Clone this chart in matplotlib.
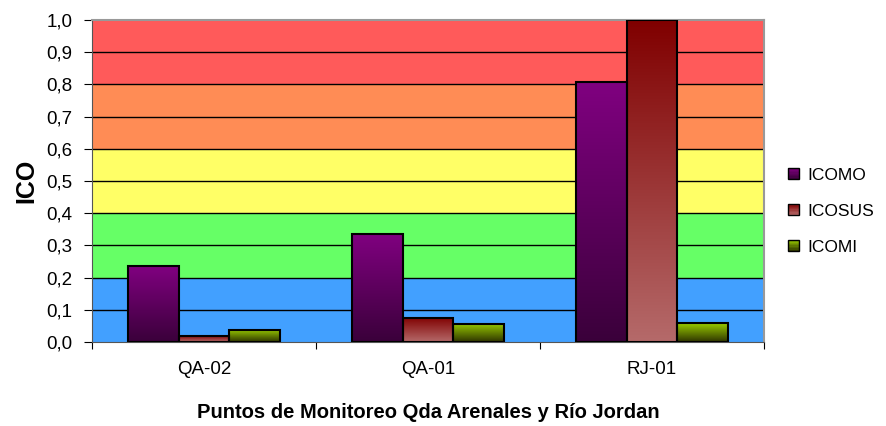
#!/usr/bin/env python3

import numpy as np
import matplotlib as mpl
mpl.use("Agg")
import matplotlib.pyplot as plt
from matplotlib.colors import LinearSegmentedColormap
from matplotlib.patches import Rectangle
from matplotlib.legend_handler import HandlerBase

plt.rcParams['font.family'] = ['Liberation Sans', 'DejaVu Sans']

# data
stations = ["QA-02", "QA-01", "RJ-01"]
series_names = ["ICOMO", "ICOSUS", "ICOMI"]
icomo = [0.236, 0.335, 0.807]
icosus = [0.019, 0.075, 1.0]
icomi = [0.038, 0.057, 0.058]

band_edges = [0.0, 0.2, 0.4, 0.6, 0.8, 1.0]
band_colors = ["#42A0FF", "#66FF66", "#FFFF66", "#FF8C55", "#FF5A5A"]

# gradient (top colour, bottom colour) for each series
grad_colors = [("#800080", "#3A003A"), ("#800000", "#B56A6A"), ("#99CC00", "#2E3300")]


def gradient_bar(ax, x, w, h, top, bottom):
    cmap = LinearSegmentedColormap.from_list("g", [bottom, top])
    img = np.linspace(0, 1, 256).reshape(-1, 1)
    im = ax.imshow(img, cmap=cmap, origin="lower", aspect="auto",
                   extent=(x, x + w, 0, h), zorder=3)
    rect = Rectangle((x, 0), w, h, facecolor="none", edgecolor="black",
                     linewidth=1.5, zorder=4)
    ax.add_patch(rect)
    im.set_clip_path(rect)


class GradHandler(HandlerBase):
    def __init__(self, top, bottom):
        super().__init__()
        self.top = top
        self.bottom = bottom

    def create_artists(self, legend, orig_handle, xdescent, ydescent,
                       width, height, fontsize, trans):
        s = height * 0.9
        x0 = xdescent + width - s
        y0 = -ydescent + (height - s) / 2
        n = 8
        arts = []
        top = np.array(mpl.colors.to_rgb(self.top))
        bot = np.array(mpl.colors.to_rgb(self.bottom))
        for i in range(n):
            c = bot + (top - bot) * (i + 0.5) / n
            r = Rectangle((x0, y0 + s * i / n), s, s / n, facecolor=c,
                          edgecolor="none", transform=trans)
            arts.append(r)
        arts.append(Rectangle((x0, y0), s, s, facecolor="none",
                              edgecolor="black", linewidth=1.0, transform=trans))
        return arts


fig = plt.figure(figsize=(8.86, 4.26), dpi=100)
ax = fig.add_axes([92 / 886, 1 - 342 / 426, 672 / 886, 322 / 426])

for i in range(len(band_colors)):
    ax.axhspan(band_edges[i], band_edges[i + 1], color=band_colors[i], zorder=0, lw=0)
for y in np.arange(0.1, 1.0, 0.1):
    ax.axhline(y, color="black", linewidth=1.0, zorder=1)

width = 0.225
x = np.arange(len(stations))
all_series = [icomo, icosus, icomi]
for k, vals in enumerate(all_series):
    top, bottom = grad_colors[k]
    for j, v in enumerate(vals):
        gradient_bar(ax, x[j] + (k - 1.5) * width, width, v, top, bottom)

ax.set_xlim(-0.5, len(stations) - 0.5)
ax.set_ylim(0, 1.0)

ax.set_yticks(np.arange(0, 1.01, 0.1))
ax.set_yticklabels(["{:.1f}".format(t).replace(".", ",") for t in np.arange(0, 1.01, 0.1)],
                   fontsize=13.5)
ax.set_xticks(np.arange(-0.5, len(stations), 1.0))
ax.set_xticklabels([])
ax.set_xticks(x, minor=True)
ax.set_xticklabels(stations, minor=True, fontsize=13.5)
ax.tick_params(axis="x", which="minor", length=0, pad=14)
ax.tick_params(axis="x", which="major", length=5, direction="out")
ax.tick_params(axis="y", length=6, direction="out", pad=8)

for side in ["top", "right"]:
    ax.spines[side].set_color("#999999")
    ax.spines[side].set_linewidth(1.5)
ax.spines["left"].set_color("#555555")
ax.spines["bottom"].set_color("#555555")

ax.set_ylabel("ICO", fontsize=18, fontweight="bold", labelpad=6)
ax.set_xlabel("Puntos de Monitoreo Qda Arenales y Río Jordan", fontsize=14.5,
              fontweight="bold", labelpad=18)

handles = [Rectangle((0, 0), 1, 1) for _ in series_names]
handler_map = {h: GradHandler(*grad_colors[i]) for i, h in enumerate(handles)}
fig.legend(handles, series_names, handler_map=handler_map, loc="center left",
           bbox_to_anchor=(766 / 886, 1 - 211 / 426), frameon=False, fontsize=12.5,
           labelspacing=1.2, handlelength=1.0, handletextpad=0.5)

fig.savefig("out.png", dpi=100)
plt.close(fig)
